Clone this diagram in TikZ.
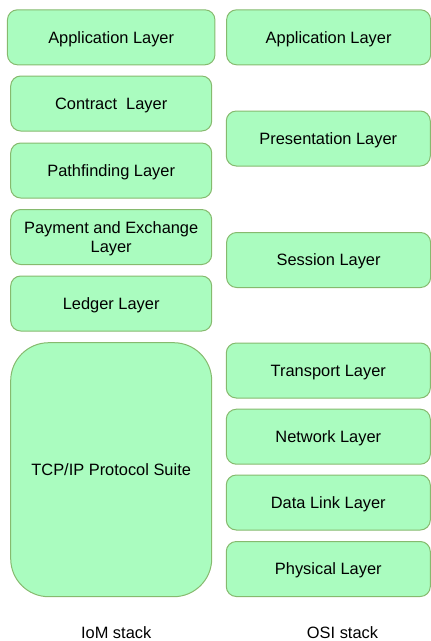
\documentclass[tikz,border=0pt]{standalone}
\usepackage{fontspec}
\setmainfont{Liberation Sans}
\usepackage{xcolor}
\usepackage{tikz}
\usetikzlibrary{positioning}

\definecolor{layerfill}{HTML}{AAFCBF}
\definecolor{layerline}{HTML}{86BA6E}

\tikzset{
    layer/.style={draw=layerline, fill=layerfill, line width=1pt,
        rounded corners=10pt, minimum width=201pt, minimum height=55pt,
        align=center, font=\fontsize{16.4}{19.5}\selectfont, inner sep=0pt,
        text depth=0pt},
    osilayer/.style={layer, minimum width=204pt},
    stacklabel/.style={font=\fontsize{16.4}{19.5}\selectfont, inner sep=0pt, anchor=base}
}

\begin{document}
\begin{tikzpicture}[x=1pt, y=-1pt]
    \useasboundingbox (0,0) rectangle (431,641);

    % 1. Cột trái: IoM stack
    \node[layer, minimum width=207.5pt] (iomapp) at (111.2, 37.3) {Application Layer};
    \node[layer] (contract) at (111.2, 103.5) {Contract\ \ Layer};
    \node[layer] (pathfind) at (111.2, 170.5) {Pathfinding Layer};
    \node[layer] (payment) at (111.2, 237) {Payment and Exchange\\Layer};
    \node[layer] (ledger) at (111.2, 303.5) {Ledger Layer};
    \node[layer, minimum height=254pt, rounded corners=38pt] (tcpip) at (111.2, 469.7) {TCP/IP Protocol Suite};

    % 2. Cột phải: OSI stack
    \node[osilayer] (osiapp) at (328.6, 37.3) {Application Layer};
    \node[osilayer] (present) at (328.3, 138.5) {Presentation Layer};
    \node[osilayer] (session) at (328.6, 260) {Session Layer};
    \node[osilayer] (transport) at (328.3, 370.5) {Transport Layer};
    \node[osilayer] (network) at (328.3, 436.7) {Network Layer};
    \node[osilayer] (datalink) at (328.3, 502.5) {Data Link Layer};
    \node[osilayer] (physical) at (328.3, 569) {Physical Layer};

    % 3. Nhãn dưới
    \node[stacklabel] (iomlabel) at (116.2, 638.5) {IoM stack};
    \node[stacklabel] (osilabel) at (342.5, 638.5) {OSI stack};

\end{tikzpicture}
\end{document}
